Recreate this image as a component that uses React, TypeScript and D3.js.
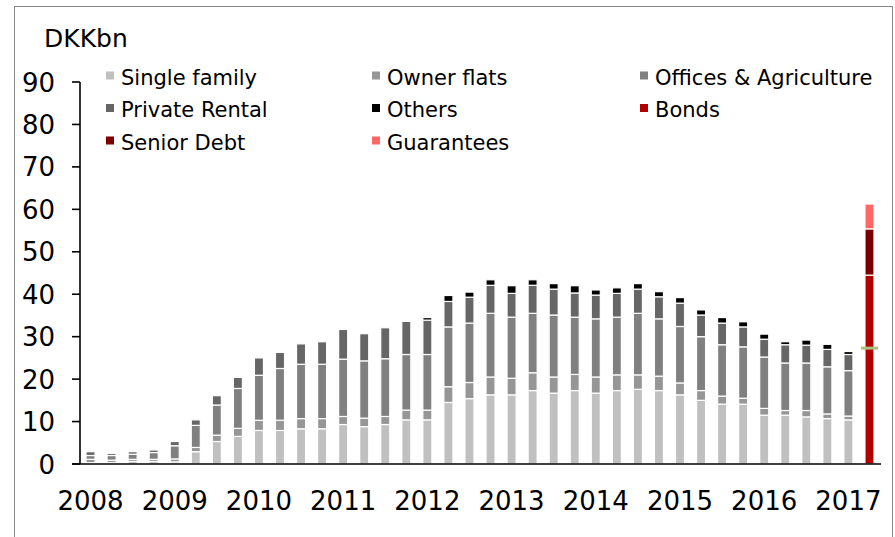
import React from "react";
import * as d3 from "d3";

const years = ["2008", "2009", "2010", "2011", "2012", "2013", "2014", "2015", "2016", "2017"];

const singleFamily = [0.3, 0.3, 0.6, 0.6, 0.5, 2.9, 5.3, 6.5, 7.9, 7.9, 8.3, 8.3, 9.3, 8.8, 9.3, 10.4, 10.4, 14.5, 15.4, 16.3, 16.3, 17.3, 16.7, 17.3, 16.7, 17.3, 17.6, 17.3, 16.3, 15.0, 14.1, 14.1, 11.5, 11.5, 11.1, 10.7, 10.4, 0];
const ownerFlats = [0.8, 0.6, 0.5, 0.5, 0.7, 1.0, 1.5, 1.9, 2.4, 2.4, 2.4, 2.4, 1.9, 2.0, 1.9, 2.3, 2.3, 3.7, 3.8, 4.2, 3.9, 4.2, 3.8, 3.8, 3.8, 3.7, 3.4, 3.4, 2.8, 2.3, 1.9, 1.4, 1.6, 1.1, 1.5, 1.1, 0.9, 0];
const offices = [0.9, 1.1, 1.2, 1.6, 3.1, 5.2, 7.1, 9.4, 10.6, 12.2, 12.8, 12.8, 13.5, 13.5, 13.6, 13.1, 13.1, 14.1, 14.0, 15.0, 14.4, 14.0, 14.6, 13.5, 13.7, 13.6, 14.5, 13.5, 13.3, 12.7, 12.1, 12.1, 12.1, 11.2, 11.2, 11.1, 10.7, 0];
const privateRental = [0.9, 0.5, 0.6, 0.6, 1.0, 1.3, 2.2, 2.6, 4.1, 3.8, 4.8, 5.3, 7.0, 6.4, 7.3, 7.8, 8.1, 6.0, 6.1, 6.6, 5.6, 6.6, 6.1, 5.7, 5.6, 5.6, 5.7, 5.2, 5.5, 5.1, 5.1, 4.7, 4.2, 4.3, 4.2, 4.1, 3.8, 0];
const others = [0, 0, 0, 0, 0, 0, 0, 0, 0, 0, 0, 0, 0, 0, 0, 0, 0.6, 1.4, 1.2, 1.3, 1.8, 1.3, 1.3, 1.7, 1.2, 1.3, 1.3, 1.2, 1.3, 1.2, 1.3, 1.2, 1.2, 0.7, 1.2, 1.2, 0.7, 0];
const bonds = [...Array(37).fill(0), 44.5];
const seniorDebt = [...Array(37).fill(0), 10.9];
const guarantees = [...Array(37).fill(0), 5.85];
const markerValue = 27.3;

const seriesNames = ["Single family", "Owner flats", "Offices & Agriculture", "Private Rental", "Others", "Bonds", "Senior Debt", "Guarantees"];
const seriesColors = ["#c0c0c0", "#969696", "#808080", "#666666", "#000000", "#b00000", "#7a0000", "#ff6666"];
const seriesData = [singleFamily, ownerFlats, offices, privateRental, others, bonds, seniorDebt, guarantees];
const yTicks = [0, 10, 20, 30, 40, 50, 60, 70, 80, 90];

const FONT = "'DejaVu Sans', Verdana, sans-serif";

export default function App() {
  const W = 895, H = 537;
  const n = singleFamily.length;
  const idx = d3.range(n);
  const x = d3.scaleBand<number>().domain(idx).range([80, 880]).paddingInner(0.57).paddingOuter(0.285);
  const y = d3.scaleLinear().domain([0, 90]).range([464, 82]);

  const rows = idx.map((i) => {
    const r: any = { i };
    seriesNames.forEach((s, k) => (r[s] = seriesData[k][i]));
    return r;
  });
  const stacked = d3.stack<any>().keys(seriesNames)(rows);

  const legendCols = [106, 372, 640];
  const legendRows = [84.5, 117, 149.5];

  return (
    <svg width={W} height={H} style={{ position: "absolute", left: 0, top: 0 }} fontFamily={FONT}>
      <rect x={0} y={0} width={W} height={H} fill="#fff" />
      <rect x={14.5} y={6.5} width={878} height={600} fill="none" stroke="#888" strokeWidth={1} />
      <text x={44} y={46.5} fontSize={25} fill="#000">DKKbn</text>

      {seriesNames.map((s, k) => {
        const col = k % 3;
        const row = Math.floor(k / 3);
        const bx = legendCols[col];
        const by = legendRows[row];
        return (
          <g key={s}>
            <rect x={bx} y={by - 13} width={8} height={8} fill={seriesColors[k]} />
            <text x={bx + 15} y={by} fontSize={21} fill="#000">{s}</text>
          </g>
        );
      })}

      {stacked.map((layer, k) => (
        <g key={layer.key} fill={seriesColors[k]}>
          {layer.map((d, i) => {
            const h = y(d[0]) - y(d[1]);
            if (h <= 0) return null;
            return (
              <rect key={i} x={x(i)!} y={y(d[1])} width={x.bandwidth()} height={h} stroke="#fff" strokeWidth={1.2} />
            );
          })}
        </g>
      ))}

      <line x1={x(n - 1)! + x.bandwidth() / 2 - 8.5} x2={x(n - 1)! + x.bandwidth() / 2 + 8.5} y1={y(markerValue)} y2={y(markerValue)} stroke="#a9c27f" strokeWidth={3} />

      <line x1={80} x2={80} y1={y(90)} y2={y(0)} stroke="#000" strokeWidth={1.6} />
      {yTicks.map((t) => (
        <g key={t}>
          <line x1={72} x2={80} y1={y(t)} y2={y(t)} stroke="#000" strokeWidth={1.6} />
          <text x={55} y={y(t) + 9.5} fontSize={26} textAnchor="end" fill="#000">{t}</text>
        </g>
      ))}
      <line x1={72} x2={881} y1={y(0)} y2={y(0)} stroke="#000" strokeWidth={1.6} />
      {years.map((yr, j) => {
        const i = j * 4;
        return (
          <text key={yr} x={x(i)! + x.bandwidth() / 2} y={510} fontSize={26} textAnchor="middle" fill="#000">{yr}</text>
        );
      })}
    </svg>
  );
}
